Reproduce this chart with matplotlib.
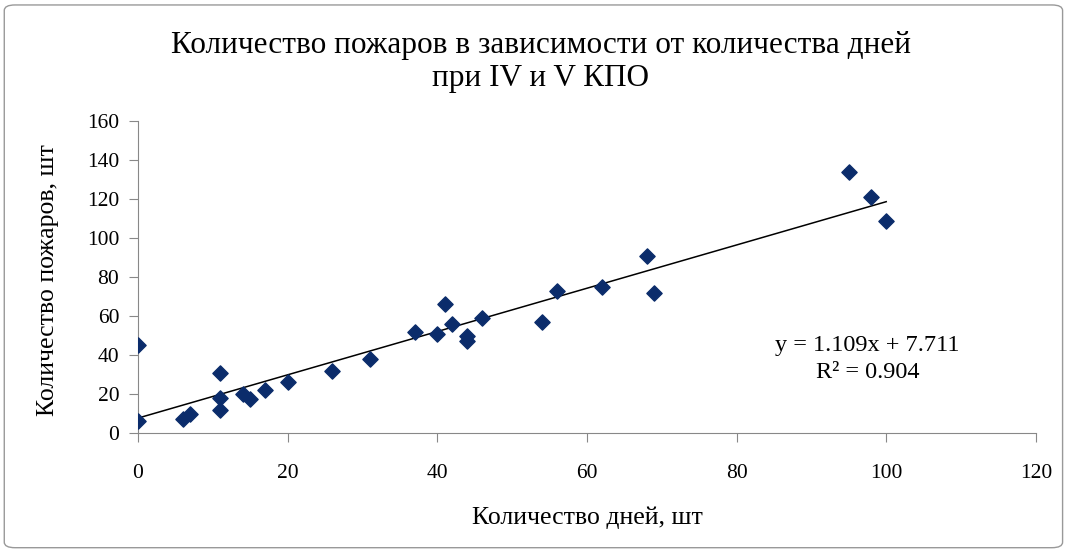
import matplotlib.pyplot as plt
import numpy as np
from matplotlib.patches import FancyBboxPatch

plt.rcParams['font.family'] = ['Liberation Serif', 'DejaVu Serif']

# количество дней при IV и V КПО
days = [0, 0, 6, 7, 11, 11, 11, 14, 15, 17, 20, 26, 31, 37, 40, 41, 42, 44, 44,
        46, 54, 56, 62, 68, 69, 95, 98, 100]
# количество пожаров
fires = [45, 6, 7, 10, 31, 18, 12, 20, 17.5, 22, 26, 32, 38, 52, 51, 66, 56, 50, 47,
         59, 57, 73, 75, 91, 72, 134, 121, 109]

x_ticks = [0, 20, 40, 60, 80, 100, 120]
y_ticks = [0, 20, 40, 60, 80, 100, 120, 140, 160]

fig = plt.figure(figsize=(10.69, 5.51), dpi=100)
ax = fig.add_axes([0.129, 0.214, 0.840, 0.566])

ax.scatter(days, fires, marker='D', s=60, color='#0b2c6b', zorder=3)

# линия тренда
k, b = np.polyfit(days, fires, 1)
xs = np.array([0, 100])
ax.plot(xs, k * xs + b, color='black', lw=1.1, zorder=2)

ax.text(97.5, 45, 'y = 1.109x + 7.711', ha='center', va='center', fontsize=17.5)
ax.text(97.5, 31, 'R² = 0.904', ha='center', va='center', fontsize=17.5)

ax.set_xlim(0, 120)
ax.set_ylim(0, 160)
ax.set_xticks(x_ticks)
ax.set_yticks(y_ticks)
ax.tick_params(labelsize=15.5, color='#888888', length=6.5)
ax.tick_params(axis='x', pad=16)
ax.tick_params(axis='y', pad=7)
for s in ['top', 'right']:
    ax.spines[s].set_visible(False)
for s in ['left', 'bottom']:
    ax.spines[s].set_color('#888888')

fig.text(587 / 1069, 1 - 518 / 551, 'Количество дней, шт', ha='center', va='center', fontsize=18.5)
fig.text(48 / 1069, 1 - 280 / 551, 'Количество пожаров, шт', ha='center', va='center',
         rotation=90, fontsize=18.5)

fig.text(541 / 1069, 1 - 62 / 551, 'Количество пожаров в зависимости от количества дней\nпри IV и V КПО',
         ha='center', va='center', fontsize=22.5, linespacing=1.22)

frame = FancyBboxPatch((0.004, 0.006), 0.99, 0.985, boxstyle='round,pad=0,rounding_size=0.01',
                       transform=fig.transFigure, fill=False, edgecolor='#999999', lw=1)
fig.patches.append(frame)

fig.savefig('out.png', dpi=100)
